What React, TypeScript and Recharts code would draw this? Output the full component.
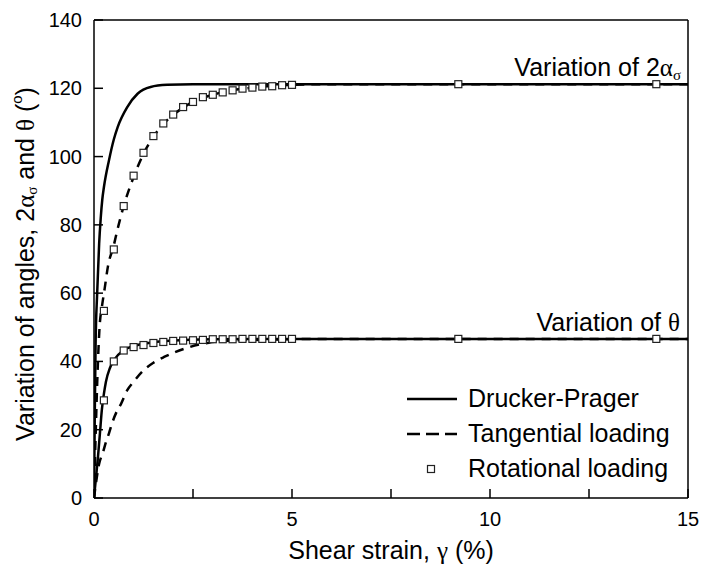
import React from "react";
import {
  ComposedChart,
  Line,
  Scatter,
  XAxis,
  YAxis,
  ReferenceLine,
  ReferenceDot,
  Legend,
  Label,
} from "recharts";

const FONT = "'Liberation Sans', Arial, sans-serif";
const GREEK = "'Liberation Serif', 'Times New Roman', serif";

// Drucker-Prager, variation of 2 alpha_sigma
const dpAlphaX = [0, 0.02, 0.04, 0.08, 0.13, 0.17, 0.21, 0.25, 0.38, 0.5, 0.6, 0.84, 1.1, 1.43, 1.85, 2.5, 15];
const dpAlphaY = [0, 25, 45, 60, 74.5, 82, 87.5, 91, 99, 105, 108.7, 114.5, 118.4, 120.4, 121, 121.2, 121.2];

// Tangential loading, variation of 2 alpha_sigma
const tanAlphaX = [0, 0.05, 0.1, 0.14, 0.2, 0.27, 0.35, 0.5, 0.59, 0.75, 1, 1.25, 1.5, 1.75, 2, 2.5, 3, 3.5, 4, 4.5, 5, 6, 15];
const tanAlphaY = [0, 22, 40, 50, 56, 61.4, 67.7, 74, 78.5, 85.5, 94, 100.8, 105.8, 109.5, 112.2, 116, 118.1, 119.4, 120.2, 120.7, 121, 121.2, 121.2];

// Drucker-Prager, variation of theta
const dpThetaX = [0, 0.05, 0.1, 0.15, 0.2, 0.25, 0.3, 0.4, 0.5, 0.75, 1, 1.5, 2, 3, 4, 15];
const dpThetaY = [0, 6, 12, 19, 26, 30.5, 34, 38, 40.3, 43.3, 44.5, 45.6, 46.1, 46.5, 46.6, 46.6];

// Tangential loading, variation of theta
const tanThetaX = [0, 0.07, 0.13, 0.23, 0.3, 0.38, 0.46, 0.59, 0.68, 0.84, 0.97, 1.26, 1.5, 1.77, 2.3, 2.9, 3.5, 4, 5, 6, 15];
const tanThetaY = [0, 6, 10, 13.5, 16.3, 19, 22, 25.7, 27.5, 31.6, 33.6, 37.5, 39.6, 41.3, 43.8, 45.5, 46.1, 46.3, 46.5, 46.6, 46.6];

// Rotational loading (markers)
const rotX = [0.25, 0.5, 0.75, 1, 1.25, 1.5, 1.75, 2, 2.25, 2.5, 2.75, 3, 3.25, 3.5, 3.75, 4, 4.25, 4.5, 4.75, 5, 9.2, 14.2];
const rotAlphaY = [54.8, 72.8, 85.5, 94.4, 101.1, 106, 109.7, 112.3, 114.5, 116, 117.4, 118.1, 118.8, 119.4, 119.9, 120.2, 120.5, 120.6, 120.9, 121, 121.2, 121.2];
const rotThetaY = [28.6, 40, 43.2, 44.2, 44.8, 45.4, 45.7, 46, 46.1, 46.2, 46.3, 46.5, 46.5, 46.5, 46.6, 46.6, 46.6, 46.6, 46.6, 46.6, 46.6, 46.6];

const xTicks = [0, 2.5, 5, 7.5, 10, 12.5, 15];
const yTicks = [0, 20, 40, 60, 80, 100, 120, 140];

const zip = (xs: number[], ys: number[]) => xs.map((x, i) => ({ x, y: ys[i] }));

const XTick = (props: any) => {
  const { x, y, payload } = props;
  const v = payload.value;
  return (
    <g>
      <line x1={x} x2={x} y1={y} y2={y - 9} stroke="#000" strokeWidth={1.5} />
      {v % 5 === 0 && (
        <text x={x} y={y + 28} textAnchor="middle" fontSize={20} fontFamily={FONT} fill="#000">
          {v}
        </text>
      )}
    </g>
  );
};

const YTick = (props: any) => {
  const { x, y, payload } = props;
  return (
    <g>
      <line x1={x} x2={x + 9} y1={y} y2={y} stroke="#000" strokeWidth={1.5} />
      <text x={x - 12} y={y + 7} textAnchor="end" fontSize={20} fontFamily={FONT} fill="#000">
        {payload.value}
      </text>
    </g>
  );
};

const Square = (props: any) => {
  const { cx, cy } = props;
  return <rect x={cx - 3.5} y={cy - 3.5} width={7} height={7} fill="#fff" stroke="#222" strokeWidth={1.2} />;
};

const YTitle = (props: any) => {
  const { viewBox } = props;
  const cx = 25;
  const cy = viewBox.y + viewBox.height / 2 + 5;
  return (
    <text
      x={cx}
      y={cy}
      transform={`rotate(-90 ${cx} ${cy})`}
      textAnchor="middle"
      fontSize={25}
      fontFamily={FONT}
      fill="#000"
      dominantBaseline="central"
    >
      Variation of angles, 2<tspan fontFamily={GREEK}>α</tspan>
      <tspan fontFamily={GREEK} fontSize={15} dy={7}>σ</tspan>
      <tspan dy={-7}> and </tspan>
      <tspan fontFamily={GREEK}>θ</tspan> (<tspan fontSize={15} dy={-9}>o</tspan>
      <tspan dy={9}>)</tspan>
    </text>
  );
};

const XTitle = (props: any) => {
  const { viewBox } = props;
  return (
    <text x={viewBox.x + viewBox.width / 2} y={559} textAnchor="middle" fontSize={25} fontFamily={FONT} fill="#000">
      Shear strain, <tspan fontFamily={GREEK}>γ</tspan> (%)
    </text>
  );
};

const AlphaNote = (props: any) => {
  const { viewBox } = props;
  return (
    <text x={viewBox.x - 7} y={viewBox.y - 8} textAnchor="end" fontSize={25} fontFamily={FONT} fill="#000">
      Variation of 2<tspan fontFamily={GREEK}>α</tspan>
      <tspan fontFamily={GREEK} fontSize={15} dy={4}>σ</tspan>
    </text>
  );
};

const ThetaNote = (props: any) => {
  const { viewBox } = props;
  return (
    <text x={viewBox.x - 8} y={viewBox.y - 8} textAnchor="end" fontSize={25} fontFamily={FONT} fill="#000">
      Variation of <tspan fontFamily={GREEK}>θ</tspan>
    </text>
  );
};

const legendItems = [
  { name: "Drucker-Prager", kind: "solid" },
  { name: "Tangential loading", kind: "dash" },
  { name: "Rotational loading", kind: "marker" },
];

const LegendBox = () => (
  <div style={{ fontFamily: FONT, fontSize: 25, color: "#000" }}>
    {legendItems.map((it) => (
      <div key={it.name} style={{ display: "flex", alignItems: "center", height: 35 }}>
        <svg width={62} height={20}>
          {it.kind === "solid" && <line x1={7} x2={57} y1={10} y2={10} stroke="#000" strokeWidth={2.5} />}
          {it.kind === "dash" && (
            <line x1={7} x2={57} y1={10} y2={10} stroke="#000" strokeWidth={2.5} strokeDasharray="13 6" />
          )}
          {it.kind === "marker" && <rect x={27.5} y={6.5} width={7} height={7} fill="#fff" stroke="#222" strokeWidth={1.2} />}
        </svg>
        <span style={{ marginLeft: 6, whiteSpace: "nowrap" }}>{it.name}</span>
      </div>
    ))}
  </div>
);

export default function App() {
  return (
    <div style={{ position: "absolute", left: 0, top: 0, background: "#fff" }}>
      <ComposedChart width={704} height={577} margin={{ top: 20, right: 16, bottom: 0, left: 0 }}>
        <XAxis
          type="number"
          dataKey="x"
          domain={[0, 15]}
          ticks={xTicks}
          interval={0}
          height={79}
          stroke="#000"
          strokeWidth={1.5}
          tickLine={false}
          tickSize={0}
          tickMargin={0}
          tick={<XTick />}
          allowDataOverflow
        >
          <Label content={<XTitle />} />
        </XAxis>
        <YAxis
          type="number"
          dataKey="y"
          domain={[0, 140]}
          ticks={yTicks}
          interval={0}
          width={94}
          stroke="#000"
          strokeWidth={1.5}
          tickLine={false}
          tickSize={0}
          tickMargin={0}
          tick={<YTick />}
          allowDataOverflow
        >
          <Label content={<YTitle />} />
        </YAxis>
        <ReferenceLine y={140} stroke="#000" strokeWidth={1.5} />
        <ReferenceLine x={15} stroke="#000" strokeWidth={1.5} />

        <Line data={zip(tanAlphaX, tanAlphaY)} dataKey="y" type="monotone" stroke="#000" strokeWidth={2.5}
          strokeDasharray="9 7" dot={false} isAnimationActive={false} />
        <Line data={zip(tanThetaX, tanThetaY)} dataKey="y" type="monotone" stroke="#000" strokeWidth={2.5}
          strokeDasharray="9 7" dot={false} isAnimationActive={false} />
        <Line data={zip(dpAlphaX, dpAlphaY)} dataKey="y" type="monotone" stroke="#000" strokeWidth={2.5}
          dot={false} isAnimationActive={false} />
        <Line data={zip(dpThetaX, dpThetaY)} dataKey="y" type="monotone" stroke="#000" strokeWidth={2.5}
          dot={false} isAnimationActive={false} />

        <Scatter data={zip(rotX, rotAlphaY)} dataKey="y" shape={<Square />} isAnimationActive={false} />
        <Scatter data={zip(rotX, rotThetaY)} dataKey="y" shape={<Square />} isAnimationActive={false} />

        <ReferenceDot x={15} y={121.2} r={0} ifOverflow="visible" label={<AlphaNote />} />
        <ReferenceDot x={15} y={46.6} r={0} ifOverflow="visible" label={<ThetaNote />} />

        <Legend
          layout="vertical"
          align="center"
          verticalAlign="middle"
          wrapperStyle={{ left: 400, top: 381, width: 300 }}
          content={<LegendBox />}
        />
      </ComposedChart>
    </div>
  );
}
